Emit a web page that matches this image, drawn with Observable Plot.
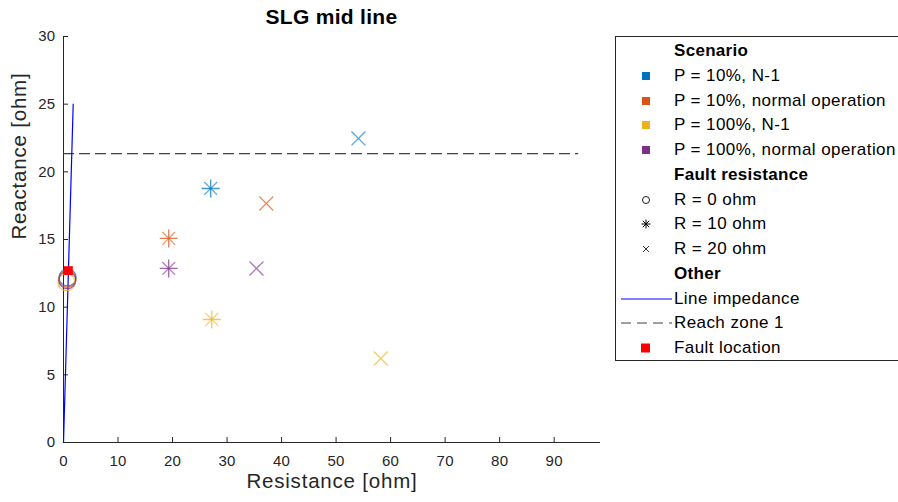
<!DOCTYPE html>
<html>
<head>
<meta charset="utf-8">
<script src="https://cdn.jsdelivr.net/npm/d3@7"></script>
<script src="https://cdn.jsdelivr.net/npm/@observablehq/plot@0.6"></script>
<style>
  body { margin: 0; background: #fff; }
  #wrap { position: relative; width: 898px; height: 502px; overflow: hidden; font-family: "Liberation Sans", Arial, sans-serif; color: #262626; }
  #title { position: absolute; left: 63px; width: 537px; top: 5px; text-align: center; font-weight: bold; font-size: 21px; letter-spacing: 0.3px; color: #000; }
  #legend { position: absolute; left: 615px; top: 36px; width: 320px; height: 325px; border: 1px solid #262626; background: #fff; box-sizing: border-box; }
  .row { position: absolute; left: 0; height: 24px; line-height: 24px; font-size: 17px; letter-spacing: 0.42px; white-space: nowrap; color: #000; }
  .row .lab { position: absolute; left: 58px; top: 0; }
  .row.hd .lab { font-weight: bold; letter-spacing: 0.3px; }
  .row svg { position: absolute; left: 0; top: 0; }
  #chart svg text { letter-spacing: 0.3px; }
  #chart svg text.big { letter-spacing: 0.8px; }
</style>
</head>
<body>
<div id="wrap">
  <div id="chart"></div>
  <div id="title">SLG mid line</div>
  <div id="legend"></div>
</div>
<script>
// ---- data ----
const scenarios = ["P = 10%, N-1", "P = 10%, normal operation", "P = 100%, N-1", "P = 100%, normal operation"];
const scenarioColors = ["#0072BD", "#D95319", "#EDB120", "#7E2F8E"];
const faultResistances = ["R = 0 ohm", "R = 10 ohm", "R = 20 ohm"];
// R = 0 ohm
const r0Resistance = [0.75, 0.7, 0.55, 0.7];
const r0Reactance = [12.2, 12.1, 11.85, 12.0];
// R = 10 ohm
const r10Resistance = [27.0, 19.3, 27.2, 19.3];
const r10Reactance = [18.77, 15.08, 9.09, 12.86];
// R = 20 ohm
const r20Resistance = [54.1, 37.2, 58.2, 35.4];
const r20Reactance = [22.47, 17.66, 6.21, 12.86];
// other
const lineResistance = [0, 1.78];
const lineReactance = [0, 25.0];
const reachResistance = [0, 94.3];
const reachReactance = [21.34, 21.34];
const faultResistance = [0.9];
const faultReactance = [12.7];
const xTicks = [0, 10, 20, 30, 40, 50, 60, 70, 80, 90];
const yTicks = [0, 5, 10, 15, 20, 25, 30];

// ---- tables ----
const mk = (xs, ys) => scenarios.map((s, i) => ({scenario: s, x: xs[i], y: ys[i]}));
const p0 = mk(r0Resistance, r0Reactance);
const p10 = mk(r10Resistance, r10Reactance);
const p20 = mk(r20Resistance, r20Reactance);
const lineData = lineResistance.map((x, i) => ({x, y: lineReactance[i]}));
const reachData = reachResistance.map((x, i) => ({x, y: reachReactance[i]}));
const faultData = faultResistance.map((x, i) => ({x, y: faultReactance[i]}));

const ink = "#262626";
const chart = Plot.plot({
  width: 898,
  height: 502,
  marginLeft: 63,
  marginRight: 298,
  marginTop: 36,
  marginBottom: 60,
  style: {fontFamily: "Liberation Sans, Arial, sans-serif", fontSize: "15px", color: ink, background: "transparent"},
  x: {domain: [0, 98.5], ticks: xTicks},
  y: {domain: [0, 30], ticks: yTicks},
  color: {domain: scenarios, range: scenarioColors},
  marks: [
    Plot.axisX({ticks: xTicks, tickSize: -5, tickFormat: () => "", label: null, stroke: ink}),
    Plot.axisX({ticks: xTicks, tickSize: 0, tickPadding: 13, label: null, fill: ink}),
    Plot.axisY({ticks: yTicks, tickSize: -5, tickFormat: () => "", label: null, stroke: ink}),
    Plot.axisY({ticks: yTicks, tickSize: 0, tickPadding: 8, label: null, fill: ink}),
    Plot.ruleY([0], {stroke: ink, strokeWidth: 1}),
    Plot.ruleX([0], {stroke: ink, strokeWidth: 1}),
    Plot.text(["Resistance [ohm]"], {frameAnchor: "bottom", dy: 45, fontSize: 20.5, fill: ink}),
    Plot.text(["Reactance [ohm]"], {frameAnchor: "left", dx: -44, rotate: -90, fontSize: 20.5, fill: ink}),
    Plot.line(reachData, {x: "x", y: "y", stroke: "#404040", strokeWidth: 1.3, strokeDasharray: "10,6"}),
    Plot.line(lineData, {x: "x", y: "y", stroke: "#0000FF", strokeWidth: 1.2}),
    // R = 0 ohm circles
    Plot.dot(p0, {x: "x", y: "y", stroke: "scenario", r: 8.5, strokeWidth: 1.3, strokeOpacity: 0.75, fill: "none"}),
    // R = 10 ohm asterisks (plus + times)
    Plot.dot(p10, {x: "x", y: "y", stroke: "scenario", symbol: "plus", r: 5.85, strokeWidth: 1.3, strokeOpacity: 0.75}),
    Plot.dot(p10, {x: "x", y: "y", stroke: "scenario", symbol: "times", r: 5.9, strokeWidth: 1.3, strokeOpacity: 0.6}),
    // R = 20 ohm crosses
    Plot.dot(p20, {x: "x", y: "y", stroke: "scenario", symbol: "times", r: 6.4, strokeWidth: 1.3, strokeOpacity: 0.65}),
    // fault location
    Plot.dot(faultData, {x: "x", y: "y", symbol: "square", fill: "#FF0000", r: 5})
  ]
});
document.getElementById("chart").appendChild(chart);
// letter-spacing class on the axis label texts
d3.select(chart).selectAll("g[aria-label='text'] text").classed("big", true);

// ---- legend ----
const legend = document.getElementById("legend");
const rowH = 24.75;
const rows = [];
rows.push({hd: true, label: "Scenario"});
scenarios.forEach((s, i) => rows.push({label: s, sym: `<rect x="26" y="8" width="8" height="8" fill="${scenarioColors[i]}"/>`}));
rows.push({hd: true, label: "Fault resistance"});
rows.push({label: faultResistances[0], sym: `<circle cx="30" cy="12" r="3.5" fill="none" stroke="#000" stroke-width="0.9"/>`});
rows.push({label: faultResistances[1], sym: `<g stroke="#000" stroke-width="1"><line x1="30" y1="7.5" x2="30" y2="16.5"/><line x1="25.5" y1="12" x2="34.5" y2="12"/><line x1="26.8" y1="8.8" x2="33.2" y2="15.2"/><line x1="26.8" y1="15.2" x2="33.2" y2="8.8"/></g>`});
rows.push({label: faultResistances[2], sym: `<g stroke="#000" stroke-width="0.8"><line x1="27" y1="9" x2="33" y2="15"/><line x1="27" y1="15" x2="33" y2="9"/></g>`});
rows.push({hd: true, label: "Other"});
rows.push({label: "Line impedance", sym: `<line x1="5" y1="12" x2="56" y2="12" stroke="#0000FF" stroke-width="1"/>`});
rows.push({label: "Reach zone 1", sym: `<line x1="5" y1="12" x2="56" y2="12" stroke="#404040" stroke-width="1.2" stroke-dasharray="10,6"/>`});
rows.push({label: "Fault location", sym: `<rect x="25" y="7.5" width="9" height="9" fill="#FF0000"/>`});
rows.forEach((r, i) => {
  const d = document.createElement("div");
  d.className = "row" + (r.hd ? " hd" : "");
  d.style.top = (2 + i * rowH) + "px";
  d.innerHTML = (r.sym ? `<svg width="60" height="24">${r.sym}</svg>` : "") + `<span class="lab">${r.label}</span>`;
  legend.appendChild(d);
});
</script>
</body>
</html>
